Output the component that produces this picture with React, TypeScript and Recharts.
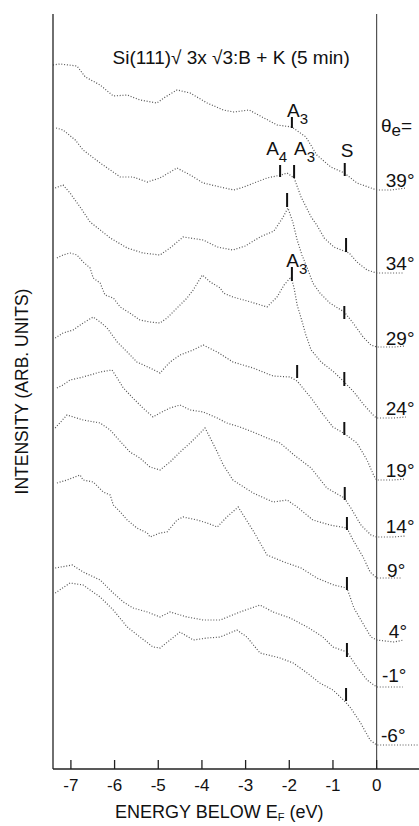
import React from 'react';
import { LineChart, Line, XAxis, YAxis, ReferenceLine, ReferenceDot } from 'recharts';

// ---- data: energy below E_F (eV) and intensity (arb. units) for each emission angle ----
const energyTicks = [-7, -6, -5, -4, -3, -2, -1, 0];
const angleNames = ['39°', '34°', '29°', '24°', '19°', '14°', '9°', '4°', '-1°', '-6°'];

const eTheta39 = [-7.41, -7.25, -6.86, -6.67, -6.33, -6.03, -5.71, -5.42, -5.03, -4.84, -4.57, -4.27, -3.88, -3.51, -3.27, -2.92, -2.28, -1.94, -1.62, -1.37, -1.05, -0.74, -0.45, -0.13, 0, 0.33, 0.67];
const iTheta39 = [704, 705, 703, 692, 684, 673, 674, 669, 666, 672, 679, 676, 666, 659, 657, 659, 644, 642, 632, 614, 602, 596, 586, 581, 579, 579, 581];

const eTheta34 = [-7.34, -7.18, -6.9, -6.72, -6.33, -6.1, -5.87, -5.58, -5.25, -4.96, -4.57, -4.27, -3.97, -3.58, -3.27, -3.04, -2.81, -2.51, -2.19, -2.05, -1.89, -1.73, -1.5, -1.37, -1.2, -0.98, -0.63, -0.45, -0.22, 0, 0.4, 0.62];
const iTheta34 = [641, 639, 629, 619, 606, 599, 592, 592, 587, 591, 601, 594, 586, 582, 579, 582, 586, 591, 594, 596, 591, 572, 552, 544, 531, 522, 516, 507, 499, 496, 496, 496];

const eTheta29 = [-7.36, -7.18, -7.02, -6.79, -6.56, -6.33, -6.1, -5.71, -5.35, -4.96, -4.73, -4.43, -3.97, -3.65, -3.29, -3.01, -2.67, -2.35, -2.14, -2.03, -1.92, -1.82, -1.71, -1.57, -1.46, -1.3, -1.07, -0.74, -0.54, -0.31, -0.13, 0, 0.42, 0.65];
const iTheta29 = [581, 584, 576, 562, 547, 539, 531, 521, 516, 514, 521, 532, 529, 522, 519, 523, 532, 538, 552, 561, 547, 529, 514, 499, 486, 476, 466, 457, 446, 432, 424, 422, 422, 423];

const eTheta24 = [-7.32, -7.18, -7.02, -6.86, -6.72, -6.56, -6.49, -6.33, -6.22, -6.03, -5.87, -5.65, -5.42, -5.19, -4.96, -4.8, -4.57, -4.34, -4.2, -3.99, -3.81, -3.58, -3.51, -3.29, -2.88, -2.51, -2.28, -2.12, -1.96, -1.89, -1.82, -1.73, -1.62, -1.5, -1.27, -0.98, -0.74, -0.52, -0.29, -0.06, 0, 0.4, 0.67];
const iTheta24 = [511, 514, 516, 514, 507, 501, 491, 486, 474, 471, 462, 456, 449, 447, 446, 451, 461, 471, 479, 494, 487, 481, 476, 472, 467, 462, 472, 484, 492, 481, 464, 451, 434, 419, 407, 397, 387, 377, 364, 353, 351, 351, 352];

const eTheta19 = [-7.36, -7.18, -6.95, -6.72, -6.49, -6.33, -6.17, -5.94, -5.71, -5.49, -5.19, -4.96, -4.73, -4.5, -4.2, -3.97, -3.65, -3.29, -2.83, -2.37, -1.98, -1.82, -1.5, -1.27, -1.0, -0.76, -0.45, -0.22, -0.06, 0, 0.37, 0.65];
const iTheta19 = [431, 436, 439, 446, 452, 447, 441, 427, 417, 407, 401, 396, 407, 414, 419, 424, 417, 407, 401, 393, 392, 388, 371, 357, 342, 336, 326, 309, 293, 289, 289, 290];

const eTheta14 = [-7.32, -7.18, -7.02, -6.72, -6.33, -6.06, -5.94, -5.8, -5.58, -5.35, -5.12, -4.96, -4.73, -4.5, -4.27, -3.97, -3.65, -3.43, -3.13, -2.83, -2.51, -2.21, -1.89, -1.5, -1.14, -0.74, -0.59, -0.36, -0.13, 0, 0.37, 0.65];
const iTheta14 = [381, 384, 389, 392, 397, 399, 391, 381, 371, 361, 352, 356, 361, 364, 359, 357, 351, 346, 342, 337, 331, 326, 314, 301, 281, 271, 261, 244, 234, 232, 232, 233];

const eTheta9 = [-7.36, -7.09, -6.72, -6.33, -6.1, -5.94, -5.65, -5.42, -5.19, -4.96, -4.73, -4.5, -4.27, -4.04, -3.93, -3.81, -3.65, -3.51, -3.29, -2.83, -2.37, -2.05, -1.82, -1.46, -1.07, -0.68, -0.54, -0.31, -0.15, 0, 0.56];
const iTheta9 = [341, 354, 349, 346, 339, 331, 317, 311, 302, 299, 307, 317, 326, 336, 341, 331, 317, 304, 289, 276, 267, 269, 262, 249, 244, 241, 229, 212, 197, 191, 191];

const eTheta4 = [-7.32, -7.09, -6.79, -6.72, -6.49, -6.26, -6.1, -6.03, -5.87, -5.71, -5.49, -5.25, -5.19, -4.96, -4.8, -4.57, -4.43, -4.11, -3.88, -3.65, -3.43, -3.17, -2.81, -2.51, -2.12, -1.73, -1.37, -0.98, -0.68, -0.52, -0.36, -0.13, 0, 0.4, 0.62];
const iTheta4 = [286, 289, 294, 289, 287, 277, 274, 264, 257, 249, 241, 236, 232, 236, 237, 249, 252, 249, 246, 242, 252, 262, 237, 214, 207, 201, 191, 184, 181, 161, 149, 132, 129, 127, 129];

const eThetaM1 = [-7.36, -6.97, -6.72, -6.33, -6.03, -5.8, -5.58, -5.25, -4.96, -4.73, -4.34, -3.97, -3.58, -3.13, -2.67, -2.37, -1.98, -1.59, -1.23, -1.0, -0.68, -0.45, -0.22, 0, 0.6];
const iThetaM1 = [201, 204, 197, 189, 176, 167, 161, 157, 152, 157, 152, 149, 149, 157, 164, 157, 151, 142, 132, 122, 117, 102, 89, 82, 82];

const eThetaM6 = [-7.36, -7.02, -6.72, -6.56, -6.33, -6.03, -5.71, -5.42, -5.12, -4.96, -4.73, -4.5, -4.2, -3.88, -3.58, -3.2, -2.97, -2.67, -2.21, -1.91, -1.59, -1.3, -1.0, -0.76, -0.61, -0.38, -0.15, 0, 0.53, 0.94];
const iThetaM6 = [176, 186, 184, 179, 172, 159, 142, 132, 122, 121, 129, 137, 129, 131, 132, 139, 132, 116, 111, 106, 96, 86, 79, 69, 62, 47, 29, 24, 24, 24];

// feature markers (energy, top and bottom of the marker bar)
const markE = [-1.94, -0.73, -2.21, -1.89, -0.70, -2.05, -0.74, -1.94, -0.74, -1.82, -0.74, -0.73, -0.68, -0.68, -0.68, -0.70];
const markTop = [652, 606, 604, 604, 531, 576, 463, 502, 397, 404, 347, 282, 252, 192, 126, 81];
const markBottom = [641, 593, 592, 591, 517, 562, 450, 488, 383, 391, 334, 269, 239, 179, 112, 68];

// feature names
const peakLetters = ['A', 'A', 'A', 'S', 'A'];
const peakSubs = ['3', '4', '3', '', '3'];
const peakE = [-2.05, -2.53, -1.89, -0.82, -2.07];
const peakI = [652, 614, 614, 612, 502];

// angle label anchors
const angleLabelE = [0.21, 0.21, 0.21, 0.21, 0.21, 0.21, 0.24, 0.28, 0.12, 0.1];
const angleLabelI = [582, 499, 424, 354, 292, 236, 192, 131, 87, 27];

const seriesE = [eTheta39, eTheta34, eTheta29, eTheta24, eTheta19, eTheta14, eTheta9, eTheta4, eThetaM1, eThetaM6];
const seriesI = [iTheta39, iTheta34, iTheta29, iTheta24, iTheta19, iTheta14, iTheta9, iTheta4, iThetaM1, iThetaM6];

const series = angleNames.map((name, k) => ({
  name,
  data: seriesE[k].map((e, j) => ({ e, i: seriesI[k][j] })),
}));

const FONT = '"Liberation Sans", Arial, Helvetica, sans-serif';
const X_DOMAIN: [number, number] = [-7.41, 0.97];

const BottomTick = (props: any) => {
  const { x, y, payload } = props;
  return (
    <g>
      <line x1={x} x2={x} y1={y} y2={y - 9} stroke="#222" strokeWidth={1.3} />
      <text x={x} y={y + 22} textAnchor="middle" fontFamily={FONT} fontSize={17} fill="#111">
        {String(payload.value)}
      </text>
    </g>
  );
};

const TopTick = (props: any) => {
  const { x, y } = props;
  return <line x1={x} x2={x} y1={y} y2={y + 9} stroke="#222" strokeWidth={1.3} />;
};

const textShape = (content: React.ReactNode, anchor: string = 'start', size = 19) => (p: any) => (
  <text x={p.cx} y={p.cy} textAnchor={anchor} fontFamily={FONT} fontSize={size} fill="#111">
    {content}
  </text>
);

export default function App() {
  return (
    <div style={{ position: 'absolute', left: 0, top: 0, background: '#fff' }}>
      <LineChart width={419} height={826} margin={{ top: 14, right: 0, left: 0, bottom: 17 }}>
        <XAxis
          dataKey="e"
          type="number"
          domain={X_DOMAIN}
          ticks={energyTicks}
          allowDataOverflow
          height={40}
          tickSize={0}
          tickMargin={0}
          tick={<BottomTick />}
          axisLine={{ stroke: '#222', strokeWidth: 1.3 }}
          label={{
            content: (p: any) => {
              const vb = p.viewBox;
              return (
                <text x={vb.x + 62} y={vb.y + 49} fontFamily={FONT} fontSize={18} fill="#111">
                  ENERGY BELOW E
                  <tspan fontSize={11} dy={3}>F</tspan>
                  <tspan dy={-3}> (eV)</tspan>
                </text>
              );
            },
          }}
        />
        <XAxis
          xAxisId="top"
          orientation="top"
          type="number"
          domain={X_DOMAIN}
          ticks={energyTicks}
          allowDataOverflow
          height={0}
          tickSize={0}
          tickMargin={0}
          tick={<TopTick />}
          axisLine={{ stroke: '#222', strokeWidth: 1.3 }}
        />
        <YAxis
          type="number"
          domain={[0, 755]}
          allowDataOverflow
          width={53}
          tick={false}
          tickLine={false}
          axisLine={{ stroke: '#222', strokeWidth: 1.3 }}
          label={{
            content: (p: any) => {
              const vb = p.viewBox;
              const cx = vb.x + 22;
              const cy = vb.y + vb.height / 2;
              return (
                <text
                  x={cx}
                  y={cy}
                  transform={`rotate(-90 ${cx} ${cy})`}
                  textAnchor="middle"
                  dominantBaseline="central"
                  fontFamily={FONT}
                  fontSize={17.5}
                  fill="#111"
                >
                  INTENSITY (ARB. UNITS)
                </text>
              );
            },
          }}
        />
        <ReferenceLine x={0} stroke="#444" strokeWidth={1.1} />
        {series.map((s) => (
          <Line
            key={s.name}
            data={s.data}
            dataKey="i"
            type="linear"
            stroke="#555"
            strokeWidth={1.2}
            strokeDasharray="1 1.8"
            dot={false}
            isAnimationActive={false}
          />
        ))}
        {markE.map((e, k) => (
          <ReferenceLine
            key={'m' + k}
            segment={[
              { x: e, y: markTop[k] },
              { x: e, y: markBottom[k] },
            ]}
            stroke="#111"
            strokeWidth={2}
          />
        ))}
        {peakLetters.map((l, k) => (
          <ReferenceDot
            key={'p' + k}
            x={peakE[k]}
            y={peakI[k]}
            r={0}
            shape={textShape(
              <>
                {l}
                {peakSubs[k] ? (
                  <tspan fontSize={15} dy={7}>
                    {peakSubs[k]}
                  </tspan>
                ) : null}
              </>
            )}
          />
        ))}
        {angleNames.map((n, k) => (
          <ReferenceDot key={'a' + k} x={angleLabelE[k]} y={angleLabelI[k]} r={0} shape={textShape(n)} />
        ))}
        <ReferenceDot
          x={0.1}
          y={637}
          r={0}
          shape={textShape(
            <>
              θ<tspan fontSize={17} dy={4}>e</tspan>
              <tspan dy={-4}>=</tspan>
            </>
          )}
        />
        <ReferenceDot
          x={-3.33}
          y={705}
          r={0}
          shape={textShape('Si(111)√ 3x √3:B + K (5 min)', 'middle', 19)}
        />
      </LineChart>
    </div>
  );
}
